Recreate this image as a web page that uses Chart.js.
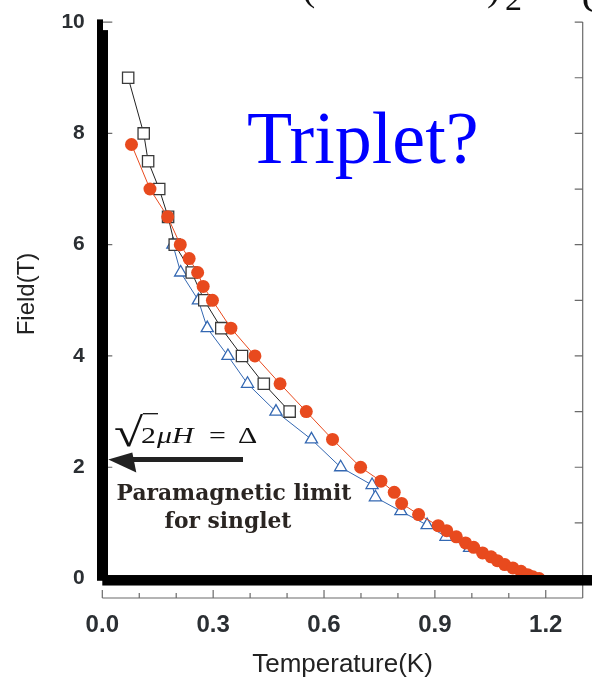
<!DOCTYPE html>
<html>
<head>
<meta charset="utf-8">
<script src="https://cdn.jsdelivr.net/npm/chart.js@4.4.1/dist/chart.umd.min.js"></script>
<style>
  body { margin: 0; background: #fff; }
  #wrap { width: 592px; height: 683px; }
</style>
</head>
<body>
<div id="wrap"><canvas id="chart" width="592" height="683"></canvas></div>
<script>
// open squares
const sqTemp  = [0.07, 0.112, 0.124, 0.154, 0.178, 0.196, 0.242, 0.276, 0.322, 0.378, 0.437, 0.507];
const sqField = [9.0, 8.0, 7.5, 7.0, 6.5, 6.0, 5.5, 5.0, 4.5, 4.0, 3.5, 3.0];
// open triangles
const triTemp  = [0.191, 0.212, 0.26, 0.284, 0.34, 0.393, 0.47, 0.566, 0.645, 0.73, 0.739, 0.808, 0.879, 0.93, 0.994];
const triField = [6.0, 5.5, 5.0, 4.5, 4.0, 3.5, 3.0, 2.5, 2.0, 1.68, 1.46, 1.21, 0.96, 0.75, 0.55];
// filled circles
const dotTemp  = [0.079, 0.129, 0.177, 0.211, 0.235, 0.258, 0.273, 0.298, 0.348, 0.413, 0.481, 0.552, 0.623, 0.699, 0.754, 0.79, 0.81, 0.856, 0.909, 0.932, 0.958, 0.983, 1.005, 1.029, 1.052, 1.069, 1.089, 1.111, 1.133, 1.151, 1.165, 1.182];
const dotField = [7.8, 7.0, 6.5, 6.0, 5.75, 5.5, 5.25, 5.0, 4.5, 4.0, 3.5, 3.0, 2.5, 2.0, 1.75, 1.55, 1.35, 1.15, 0.95, 0.86, 0.75, 0.64, 0.56, 0.46, 0.39, 0.32, 0.25, 0.19, 0.13, 0.07, 0.03, 0.0];

const yTickValues = [0, 2, 4, 6, 8, 10];
const yMinorTicks = [0, 1, 2, 3, 4, 5, 6, 7, 8, 9, 10];
const xTickLabels = ['0.0', '0.3', '0.6', '0.9', '1.2'];

const RED = 'rgb(232,74,30)';
const BLUE = 'rgb(52,104,178)';

const pts = (xs, ys) => xs.map((v, i) => ({ x: v, y: ys[i] }));

// sqrt(2) muH = Delta, drawn a bit stretched like the original
function drawFormula(ctx) {
  const sx = 1.3;
  ctx.save();
  ctx.scale(sx, 1);
  ctx.fillStyle = '#111';
  ctx.textAlign = 'left';
  ctx.textBaseline = 'alphabetic';

  // radical sign sized so it spans y 413..446
  ctx.font = '100px "Liberation Serif"';
  let m = ctx.measureText('√');
  const k = 33 / (m.actualBoundingBoxAscent + m.actualBoundingBoxDescent);
  ctx.font = (100 * k).toFixed(1) + 'px "Liberation Serif"';
  m = ctx.measureText('√');
  const base = 413 + m.actualBoundingBoxAscent;
  const rx = 114 / sx;
  ctx.fillText('√', rx, base);
  const rEnd = rx + m.actualBoundingBoxRight;
  ctx.strokeStyle = '#111';
  ctx.lineWidth = 1.3;
  ctx.beginPath();
  ctx.moveTo(rEnd - 0.8, 413.7);
  ctx.lineTo(158 / sx, 413.7);
  ctx.stroke();

  ctx.font = '23px "Liberation Serif"';
  ctx.fillText('2', 141 / sx, 443);
  ctx.font = 'italic 23px "Liberation Serif"';
  ctx.fillText('μH', 157 / sx, 443);
  ctx.font = '23px "Liberation Serif"';
  ctx.fillText('=', 209 / sx, 443);
  ctx.fillText('Δ', 238 / sx, 443);
  ctx.restore();
}

const overlay = {
  id: 'overlay',
  afterDatasetsDraw(chart) {
    const { ctx, chartArea: a, scales: { x, y } } = chart;
    ctx.save();

    // thin frame (bottom + right) with inward ticks
    ctx.strokeStyle = '#6a6a6a';
    ctx.lineWidth = 1.2;
    ctx.beginPath();
    ctx.moveTo(a.left, a.bottom); ctx.lineTo(a.right, a.bottom);
    ctx.moveTo(a.right, a.top); ctx.lineTo(a.right, a.bottom);
    x.ticks.forEach((t, i) => {
      const px = x.getPixelForValue(t.value);
      const len = i % 3 === 0 ? 8 : 5;
      ctx.moveTo(px, a.bottom); ctx.lineTo(px, a.bottom - len);
    });
    yMinorTicks.forEach(v => {
      const py = y.getPixelForValue(v);
      ctx.moveTo(a.right, py); ctx.lineTo(a.right - 8, py);
    });
    yTickValues.forEach(v => {
      const py = y.getPixelForValue(v);
      ctx.moveTo(a.left, py); ctx.lineTo(a.left + 10, py);
    });
    ctx.stroke();

    // heavy L-shaped axes
    const x0 = x.getPixelForValue(0);
    const y0 = y.getPixelForValue(0);
    const yTop = y.getPixelForValue(10);
    ctx.fillStyle = '#000';
    ctx.fillRect(x0 - 5.3, yTop - 2.7, 6, y0 + 2 - (yTop - 2.7));
    ctx.fillRect(x0 - 5.3, yTop + 8, 11, y0 + 2 - (yTop + 8));
    ctx.fillRect(x0, y0 - 3.5, chart.width - x0, 10.5);

    // Triplet?
    ctx.fillStyle = '#0000ff';
    ctx.font = '74px "Liberation Serif"';
    ctx.textAlign = 'left';
    ctx.textBaseline = 'alphabetic';
    ctx.fillText('Triplet?', 247, 163);

    drawFormula(ctx);

    // arrow to the paramagnetic limit
    const ay = y.getPixelForValue(2.14);
    ctx.strokeStyle = '#222';
    ctx.fillStyle = '#222';
    ctx.lineWidth = 5;
    ctx.beginPath();
    ctx.moveTo(243, ay); ctx.lineTo(128, ay);
    ctx.stroke();
    ctx.beginPath();
    ctx.moveTo(x0 + 6, ay);
    ctx.lineTo(x0 + 30, ay - 7);
    ctx.lineTo(x0 + 34, ay + 13);
    ctx.closePath();
    ctx.fill();

    // labels
    ctx.fillStyle = '#2a2522';
    ctx.textAlign = 'center';
    ctx.font = 'bold 18px "DejaVu Serif"';
    const w1 = ctx.measureText('Paramagnetic limit').width;
    const fs = 18 * 235 / w1;
    ctx.font = 'bold ' + fs.toFixed(1) + 'px "DejaVu Serif"';
    ctx.fillText('Paramagnetic limit', 234, 500);
    ctx.fillText('for singlet', 228, 528);

    // y axis title
    ctx.save();
    ctx.translate(27, 294);
    ctx.rotate(-Math.PI / 2);
    ctx.fillStyle = '#222';
    ctx.font = '24px "Liberation Sans"';
    ctx.textBaseline = 'middle';
    ctx.fillText('Field(T)', 0, 0);
    ctx.restore();

    // cropped heading at the top edge
    ctx.fillStyle = '#111';
    ctx.textAlign = 'left';
    ctx.font = '40px "Liberation Serif"';
    ctx.fillText('(', 302, 0);
    ctx.fillText(')', 487, 0);
    ctx.font = '34px "Liberation Serif"';
    ctx.fillText('2', 505, 10);
    ctx.font = '36px "Liberation Serif"';
    ctx.fillText('C', 582, 12);

    ctx.restore();
  }
};

new Chart(document.getElementById('chart'), {
  type: 'line',
  data: {
    datasets: [
      {
        label: 'circles',
        data: pts(dotTemp, dotField),
        borderColor: RED,
        borderWidth: 1,
        backgroundColor: RED,
        pointStyle: 'circle',
        pointRadius: 6.5,
        pointBorderWidth: 0,
        order: 0
      },
      {
        label: 'squares',
        data: pts(sqTemp, sqField),
        borderColor: '#222',
        borderWidth: 1,
        backgroundColor: '#fff',
        pointBorderColor: '#3a3a3a',
        pointStyle: 'rect',
        pointRadius: 8,
        pointBorderWidth: 1.3,
        order: 1
      },
      {
        label: 'triangles',
        data: pts(triTemp, triField),
        borderColor: BLUE,
        borderWidth: 1,
        backgroundColor: '#fff',
        pointStyle: 'triangle',
        pointRadius: 7,
        pointBorderWidth: 1.3,
        order: 2
      }
    ]
  },
  options: {
    responsive: false,
    animation: false,
    layout: { padding: { top: 20.7, right: 3, left: 0, bottom: 0 } },
    plugins: { legend: { display: false }, tooltip: { enabled: false } },
    elements: { line: { tension: 0 } },
    scales: {
      x: {
        type: 'linear',
        min: 0,
        max: 1.3,
        grid: { display: false },
        border: { display: false },
        ticks: {
          stepSize: 0.1,
          autoSkip: false,
          maxRotation: 0,
          padding: 5,
          color: '#2b2f33',
          font: { family: 'Liberation Sans', size: 24, weight: 'bold' },
          callback: (v, i) => (i % 3 === 0 ? xTickLabels[i / 3] : '')
        },
        title: {
          display: true,
          text: 'Temperature(K)',
          color: '#222',
          font: { family: 'Liberation Sans', size: 26 },
          padding: { top: 0, bottom: 3 }
        },
        afterFit: s => { s.height = 85; }
      },
      y: {
        type: 'linear',
        min: -0.35,
        max: 10,
        grid: { display: false },
        border: { display: false },
        afterBuildTicks: s => { s.ticks = yTickValues.map(v => ({ value: v })); },
        ticks: {
          padding: 9.5,
          color: '#2b2f33',
          font: { family: 'Liberation Sans', size: 21, weight: 'bold' }
        },
        afterFit: s => { s.width = 102.3; }
      }
    }
  },
  plugins: [overlay]
});
</script>
</body>
</html>
